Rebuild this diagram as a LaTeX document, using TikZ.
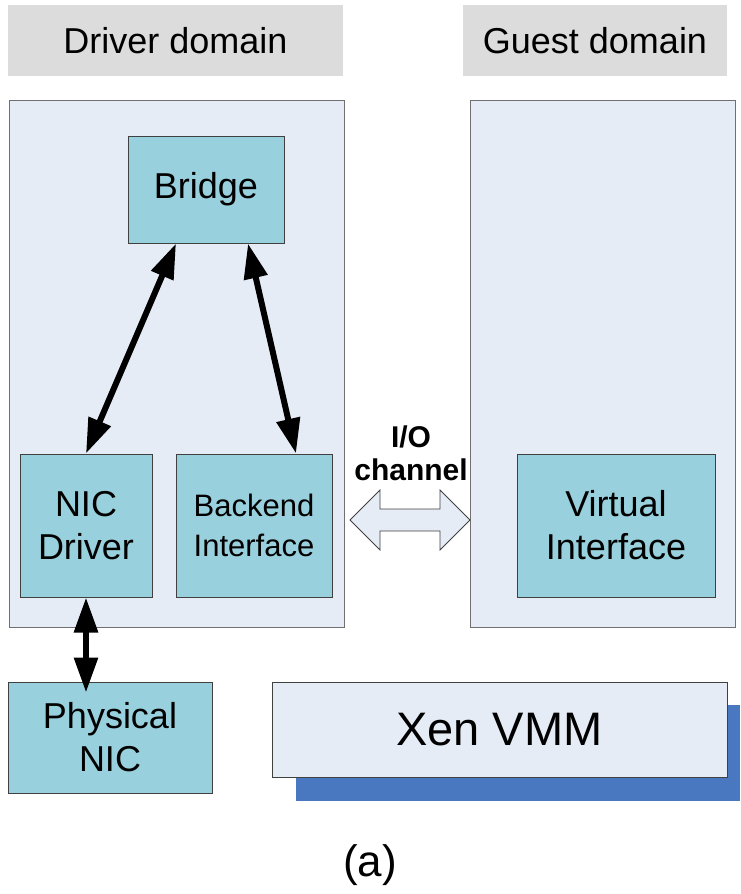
\documentclass[tikz,border=0pt]{standalone}
\usepackage{fontspec}
\setmainfont{Liberation Sans}
\usetikzlibrary{arrows.meta}
\definecolor{hdrgray}{HTML}{DCDCDC}
\definecolor{domfill}{HTML}{E6ECF6}
\definecolor{domline}{HTML}{707070}
\definecolor{tealfill}{HTML}{99D0DD}
\definecolor{boxline}{HTML}{404040}
\definecolor{shadowblue}{HTML}{4A78C0}
\tikzset{
  hdr/.style={fill=hdrgray, draw=none, inner sep=0pt, font=\fontsize{36}{43}\selectfont},
  dom/.style={fill=domfill, draw=domline, line width=1pt, inner sep=0pt},
  comp/.style={fill=tealfill, draw=boxline, line width=1pt, inner sep=0pt, align=center, font=\fontsize{36}{43}\selectfont},
  dbl/.style={line width=6pt, {Triangle[length=35pt,width=23pt]}-{Triangle[length=35pt,width=23pt]}},
}
\begin{document}
\begin{tikzpicture}[x=1pt, y=-1pt]
\useasboundingbox (0,0) rectangle (740,894);
% headers
\node[hdr, minimum width=335pt, minimum height=71pt] (hdrL) at (175.5,40.5) {Driver domain};
\node[hdr, minimum width=264pt, minimum height=71pt] (hdrR) at (595,40.5) {Guest domain};
% domains
\node[dom, minimum width=335pt, minimum height=527pt] (domL) at (176.5,363.5) {};
\node[dom, minimum width=265pt, minimum height=527pt] (domR) at (602.5,363.5) {};
% shadow of Xen VMM
\fill[shadowblue] (296,705) rectangle (740,801);
% components
\node[comp, minimum width=156pt, minimum height=107pt] (bridge) at (206,189.5) {\raisebox{-3pt}{Bridge}};
\node[comp, minimum width=132pt, minimum height=143pt] (nic) at (86,525.5) {NIC\\Driver};
\node[comp, minimum width=156pt, minimum height=143pt, font=\fontsize{31}{40}\selectfont] (backend) at (254,525.5) {Backend\\Interface};
\node[comp, minimum width=198pt, minimum height=143pt] (virt) at (616,525.5) {Virtual\\Interface};
\node[comp, minimum width=204pt, minimum height=111pt] (phys) at (110,737.5) {Physical\\NIC};
\node[fill=domfill, draw=boxline, line width=1pt, inner sep=0pt, minimum width=455pt, minimum height=95pt, font=\fontsize{47}{56}\selectfont] (xen) at (499.5,729.5) {Xen VMM};
% arrows
\draw[dbl] ([xshift=-30pt]bridge.south) -- (nic.north);
\draw[dbl] ([xshift=42pt]bridge.south) -- ([xshift=42pt]backend.north);
\draw[dbl] (nic.south) -- ([xshift=-24pt,yshift=-11pt]phys.north);
% I/O channel
\node[align=center, font=\bfseries\fontsize{30}{33}\selectfont, inner sep=0pt] (io) at (411,453) {I/O\\channel};
\coordinate (ioL) at (350,520);
\coordinate (ioR) at (470,520);
\draw[fill=domfill, draw=boxline, line width=0.8pt, line join=miter]
  (ioL) -- ++(30,-30) -- ++(0,19) -- ++(60,0) -- ++(0,-19) -- (ioR)
  -- ++(-30,30) -- ++(0,-19) -- ++(-60,0) -- ++(0,19) -- cycle;
% caption
\node[font=\fontsize{44}{50}\selectfont, inner sep=0pt] (cap) at (370,865) {(a)};
\end{tikzpicture}
\end{document}
